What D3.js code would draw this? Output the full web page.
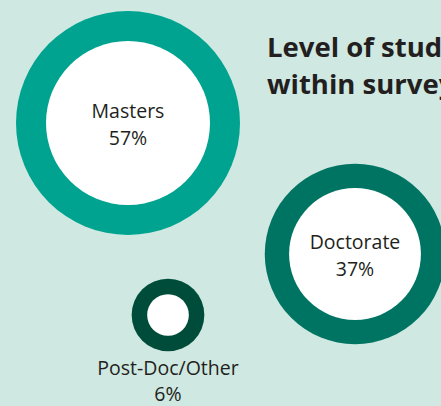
<!DOCTYPE html>
<html><head><meta charset="utf-8">
<script src="https://cdn.jsdelivr.net/npm/d3@7"></script>
<style>
html,body{margin:0;padding:0;background:#cfe8e1;overflow:hidden;}
svg{display:block;}
</style></head>
<body>
<svg id="chart" width="441" height="406"></svg>
<script>
const categories = ["Masters", "Doctorate", "Post-Doc/Other"];
const values = [57, 37, 6];
const valueLabels = ["57%", "37%", "6%"];
const titleLines = ["Level of study", "within survey sample"];

// layout (not data)
const centers = [[128, 123], [355, 254], [168, 315]];
const colors = ["#00a38f", "#007462", "#004c3a"];
const labelInside = [true, true, false];

const W = 441, H = 406;
const svg = d3.select("#chart");
svg.append("rect").attr("width", W).attr("height", H).attr("fill", "#cfe8e1");

const r = d3.scaleSqrt().domain([0, 57]).range([0, 112]);
const thick = d3.scaleLinear().domain([6, 57]).range([15.5, 30]);

const g = svg.selectAll("g.bubble").data(categories).join("g")
  .attr("class", "bubble")
  .attr("transform", (d, i) => `translate(${centers[i][0]},${centers[i][1]})`);

g.append("circle").attr("r", (d, i) => r(values[i])).attr("fill", (d, i) => colors[i]);
g.append("circle").attr("r", (d, i) => r(values[i]) - thick(values[i])).attr("fill", "#ffffff");

const font = "'Open Sans', 'Noto Sans', sans-serif";
g.append("text")
  .attr("text-anchor", "middle")
  .attr("y", (d, i) => labelInside[i] ? -5 : r(values[i]) + 24)
  .attr("font-family", font).attr("font-size", 19.5).attr("fill", "#231f20")
  .text(d => d);
g.append("text")
  .attr("text-anchor", "middle")
  .attr("y", (d, i) => labelInside[i] ? 22 : r(values[i]) + 50)
  .attr("font-family", font).attr("font-size", 19.5).attr("fill", "#231f20")
  .text((d, i) => valueLabels[i]);

svg.append("text")
  .attr("x", 267).attr("y", 57)
  .attr("font-family", font).attr("font-weight", "bold").attr("font-size", 27.5)
  .attr("fill", "#231f20")
  .selectAll("tspan").data(titleLines).join("tspan")
  .attr("x", 267).attr("dy", (d, i) => i ? 37 : 0)
  .text(d => d);
</script>
</body></html>
